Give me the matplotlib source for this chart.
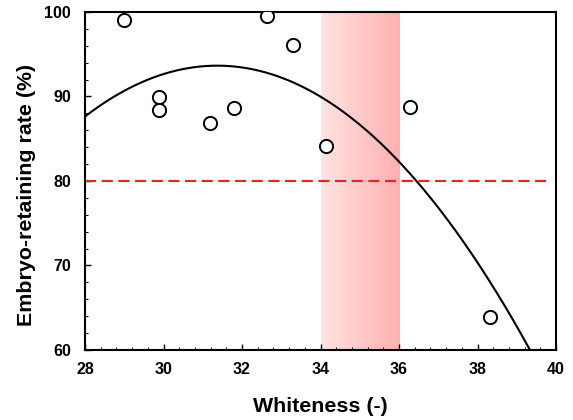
import numpy as np
import matplotlib.pyplot as plt
from matplotlib.ticker import MultipleLocator

# Measured samples
whiteness = [29.0, 29.88, 29.88, 31.18, 31.80, 32.63, 33.31, 34.13, 36.28, 38.32]
retaining = [99.0, 89.9, 88.4, 86.9, 88.6, 99.5, 96.1, 84.1, 88.7, 63.9]

# Quadratic regression curve: y = k + a * (x - h)^2
fit_a = -0.53
fit_h = 31.37
fit_k = 93.65

threshold = 80
band_range = (34, 36)

plt.rcParams['font.family'] = ['Liberation Sans', 'DejaVu Sans']
plt.rcParams['font.weight'] = 'bold'

fig = plt.figure(figsize=(5.73, 4.2), dpi=100)
ax = fig.add_axes([85 / 573, 70 / 420, 471 / 573, 338 / 420])

ax.set_xlim(28, 40)
ax.set_ylim(60, 100)

# Shaded optimal range with a left-to-right gradient
grad = np.linspace(0, 1, 256).reshape(1, -1)
c0 = np.array([1.0, 0.89, 0.89])
c1 = np.array([1.0, 0.69, 0.69])
img = c0 + (c1 - c0) * grad[..., None]
ax.imshow(img, extent=[band_range[0], band_range[1], 60, 100],
          aspect='auto', zorder=0, interpolation='bilinear')

xs = np.linspace(28, 40, 400)
ys = fit_k + fit_a * (xs - fit_h) ** 2
ax.plot(xs, ys, color='black', lw=1.5, zorder=2)

ax.plot([28, 39.85], [threshold, threshold], color='#e02828', lw=1.6,
        dashes=(5, 2.5), zorder=2)

ax.plot(whiteness, retaining, 'o', mfc='white', mec='black', ms=9.5,
        mew=1.4, zorder=3)

ax.xaxis.set_major_locator(MultipleLocator(2))
ax.xaxis.set_minor_locator(MultipleLocator(0.4))
ax.yaxis.set_major_locator(MultipleLocator(10))
ax.yaxis.set_minor_locator(MultipleLocator(2))
ax.tick_params(which='both', direction='in', top=False, right=False,
               labelsize=11.5)
ax.tick_params(axis='x', pad=9)
ax.tick_params(axis='y', pad=10)
ax.tick_params(which='major', length=4, width=1)
ax.tick_params(which='minor', length=2.5, width=0.8)
for side in ax.spines.values():
    side.set_linewidth(1.5)

ax.set_xlabel('Whiteness (-)', fontsize=15.4, fontweight='bold', labelpad=14)
ax.set_ylabel('Embryo-retaining rate (%)', fontsize=15.4, fontweight='bold')
ax.yaxis.set_label_coords(-0.104, 0.459)

fig.savefig('out.png', dpi=100)
